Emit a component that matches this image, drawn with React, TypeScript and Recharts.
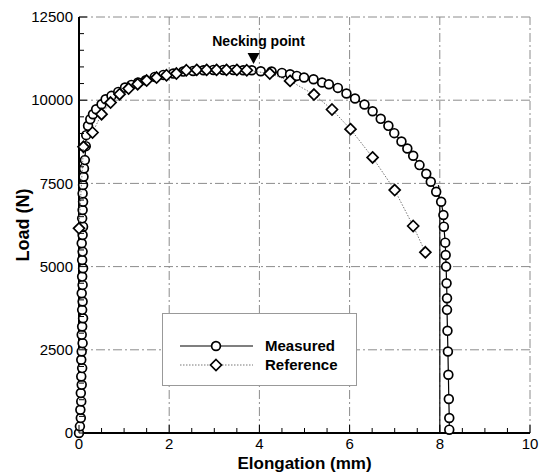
import { ScatterChart, Scatter, XAxis, YAxis, ReferenceLine, ReferenceDot } from 'recharts';

const FONT = '"Liberation Sans", Arial, Helvetica, sans-serif';

// measured load-elongation curve, [elongation mm, load N]
const measuredPoints: [number, number][] = [
  [0.0, 0], [0.02, 200], [0.04, 450], [0.03, 700], [0.05, 950], [0.04, 1200], [0.06, 1450],
  [0.05, 1700], [0.07, 1950], [0.05, 2200], [0.06, 2450], [0.08, 2700], [0.06, 2950],
  [0.07, 3200], [0.09, 3450], [0.07, 3700], [0.08, 3950], [0.06, 4200], [0.08, 4450],
  [0.07, 4700], [0.09, 4950], [0.07, 5200], [0.08, 5450], [0.06, 5700], [0.08, 5950],
  [0.09, 6200], [0.07, 6450], [0.08, 6700], [0.09, 6950], [0.08, 7200], [0.09, 7450],
  [0.1, 7700], [0.11, 7950], [0.13, 8200], [0.15, 8620], [0.16, 8950], [0.2, 9230],
  [0.25, 9430], [0.31, 9580], [0.38, 9730], [0.5, 9880], [0.59, 10030], [0.72, 10130],
  [0.87, 10250], [1.02, 10380], [1.16, 10460], [1.31, 10530], [1.48, 10600], [1.68, 10700],
  [1.87, 10760], [2.09, 10800], [2.31, 10860], [2.53, 10880], [2.76, 10900], [2.98, 10910],
  [3.2, 10910], [3.42, 10910], [3.64, 10900], [3.83, 10900], [4.03, 10870], [4.27, 10860],
  [4.5, 10820], [4.68, 10780], [4.83, 10730], [4.99, 10680], [5.2, 10630], [5.39, 10530],
  [5.54, 10480], [5.74, 10370], [5.93, 10200], [6.12, 10050], [6.33, 9870], [6.51, 9670],
  [6.69, 9440], [6.86, 9230], [6.99, 9010], [7.15, 8760], [7.28, 8550], [7.41, 8330],
  [7.55, 8050], [7.7, 7790], [7.8, 7550], [7.92, 7250], [8.03, 6950], [8.08, 6550],
  [8.09, 6200], [8.12, 5720], [8.13, 5350], [8.14, 5000], [8.15, 4500], [8.16, 4050],
  [8.16, 3700], [8.17, 3070], [8.18, 2450], [8.19, 1750], [8.2, 1020], [8.21, 450], [8.21, 100],
];

// plain measured trace at fracture (drawn without markers)
const fractureTrace: [number, number][] = [
  [7.97, 7450], [8.0, 6900], [8.0, 0],
];

// reference curve
const referencePoints: [number, number][] = [
  [0.0, 6150], [0.1, 8600], [0.3, 9030], [0.5, 9580], [0.7, 9930], [0.9, 10180], [1.1, 10350],
  [1.3, 10480], [1.5, 10590], [1.72, 10680], [1.94, 10750], [2.16, 10800], [2.38, 10900],
  [2.61, 10910], [2.83, 10910], [3.05, 10910], [3.27, 10910], [3.5, 10910], [3.72, 10900],
  [4.23, 10800], [4.68, 10580], [5.21, 10170], [5.61, 9720], [6.02, 9130], [6.51, 8280],
  [7.0, 7300], [7.41, 6220], [7.68, 5430],
];

const neckingPoint = { x: 3.87, y: 11270, label: 'Necking point' };

const xTicks = [0, 0.5, 1, 1.5, 2, 2.5, 3, 3.5, 4, 4.5, 5, 5.5, 6, 6.5, 7, 7.5, 8, 8.5, 9, 9.5, 10];
const xLabels = [0, 2, 4, 6, 8, 10];
const yTicks = [
  0, 500, 1000, 1500, 2000, 2500, 3000, 3500, 4000, 4500, 5000, 5500, 6000, 6500,
  7000, 7500, 8000, 8500, 9000, 9500, 10000, 10500, 11000, 11500, 12000, 12500,
];
const yLabels = [0, 2500, 5000, 7500, 10000, 12500];

const measured = measuredPoints.map(([x, y]) => ({ x, y }));
const fracture = fractureTrace.map(([x, y]) => ({ x, y }));
const reference = referencePoints.map(([x, y]) => ({ x, y }));

const GRID = { stroke: '#8c8c8c', strokeWidth: 1, strokeDasharray: '9 3 2 3' };

function XTick({ x, y, payload }: any) {
  const major = xLabels.includes(payload.value);
  return (
    <g>
      <line x1={x} y1={y} x2={x} y2={y - (major ? 8 : 5)} stroke="#000" strokeWidth={1} />
      {major && (
        <text x={x} y={y + 16} textAnchor="middle" fontSize={15} fontFamily={FONT} fill="#000">
          {payload.value}
        </text>
      )}
    </g>
  );
}

function YTick({ x, y, payload }: any) {
  const major = yLabels.includes(payload.value);
  return (
    <g>
      <line x1={x} y1={y} x2={x + (major ? 8 : 5)} y2={y} stroke="#000" strokeWidth={1} />
      {major && (
        <text x={x - 6} y={y} dy="0.35em" textAnchor="end" fontSize={15} fontFamily={FONT} fill="#000">
          {payload.value}
        </text>
      )}
    </g>
  );
}

function Circle({ cx, cy }: any) {
  return <circle cx={cx} cy={cy} r={4.4} fill="#fff" stroke="#000" strokeWidth={1.7} />;
}

function Diamond({ cx, cy }: any) {
  const s = 5.5;
  return (
    <path
      d={`M${cx},${cy - s}L${cx + s},${cy}L${cx},${cy + s}L${cx - s},${cy}Z`}
      fill="#fff"
      stroke="#000"
      strokeWidth={1.7}
    />
  );
}

function NeckMark({ cx, cy }: any) {
  return (
    <g>
      <path d={`M${cx - 6},${cy - 5}L${cx + 6},${cy - 5}L${cx},${cy + 6}Z`} fill="#000" />
      <text x={cx + 5} y={cy - 12} textAnchor="middle" fontSize={14} fontWeight="bold" fontFamily={FONT} fill="#000">
        {neckingPoint.label}
      </text>
    </g>
  );
}

function LegendBox() {
  const row = (name: string, dashed: boolean, marker: 'circle' | 'diamond') => (
    <div style={{ display: 'flex', alignItems: 'center', height: 19 }}>
      <svg width={76} height={14} style={{ marginRight: 10 }}>
        <line
          x1={1}
          y1={7}
          x2={74}
          y2={7}
          stroke={dashed ? '#777' : '#000'}
          strokeWidth={dashed ? 1 : 1.2}
          strokeDasharray={dashed ? '1.5 1.5' : undefined}
        />
        {marker === 'circle' ? <Circle cx={37} cy={7} /> : <Diamond cx={37} cy={7} />}
      </svg>
      <span style={{ fontFamily: FONT, fontWeight: 'bold', fontSize: 15, color: '#000' }}>{name}</span>
    </div>
  );
  return (
    <div
      style={{
        position: 'absolute',
        left: 162,
        top: 313,
        boxSizing: 'border-box',
        width: 195,
        height: 73,
        border: '1px solid #999',
        background: '#fff',
        padding: '22px 0 0 16px',
      }}
    >
      {row('Measured', false, 'circle')}
      {row('Reference', true, 'diamond')}
    </div>
  );
}

export default function App() {
  return (
    <div style={{ position: 'absolute', left: 0, top: 0, width: 545, height: 472, background: '#fff' }}>
      <ScatterChart width={545} height={472} margin={{ top: 17, right: 15, bottom: 0, left: 0 }}>
        <XAxis
          type="number"
          dataKey="x"
          domain={[0, 10]}
          ticks={xTicks}
          interval={0}
          tickSize={0}
          tickMargin={0}
          tick={<XTick />}
          height={39}
          axisLine={{ stroke: '#000', strokeWidth: 2 }}
          label={{
            content: ({ viewBox }: any) => (
              <text
                x={viewBox.x + viewBox.width / 2}
                y={viewBox.y + 36}
                textAnchor="middle"
                fontSize={17}
                fontWeight="bold"
                fontFamily={FONT}
                fill="#000"
              >
                Elongation (mm)
              </text>
            ),
          }}
        />
        <YAxis
          type="number"
          dataKey="y"
          domain={[0, 12500]}
          ticks={yTicks}
          interval={0}
          tickSize={0}
          tickMargin={0}
          tick={<YTick />}
          width={79}
          axisLine={{ stroke: '#000', strokeWidth: 2 }}
          label={{
            content: ({ viewBox }: any) => {
              const cx = 23;
              const cy = viewBox.y + viewBox.height / 2;
              return (
                <text
                  x={cx}
                  y={cy}
                  dy="0.35em"
                  transform={`rotate(-90, ${cx}, ${cy})`}
                  textAnchor="middle"
                  fontSize={18}
                  fontWeight="bold"
                  fontFamily={FONT}
                  fill="#000"
                >
                  Load (N)
                </text>
              );
            },
          }}
        />
        {xLabels.slice(1).map((v) => (
          <ReferenceLine key={`gx${v}`} x={v} {...GRID} />
        ))}
        {yLabels.slice(1).map((v) => (
          <ReferenceLine key={`gy${v}`} y={v} {...GRID} />
        ))}
        <Scatter
          name="Fracture"
          data={fracture}
          line={{ stroke: '#111', strokeWidth: 1.2 }}
          shape={() => <g />}
          isAnimationActive={false}
        />
        <Scatter
          name="Measured"
          data={measured}
          line={{ stroke: '#000', strokeWidth: 1.2 }}
          shape={<Circle />}
          isAnimationActive={false}
        />
        <Scatter
          name="Reference"
          data={reference}
          line={{ stroke: '#777', strokeWidth: 1, strokeDasharray: '1.5 1.5' }}
          shape={<Diamond />}
          isAnimationActive={false}
        />
        <ReferenceDot x={neckingPoint.x} y={neckingPoint.y} shape={<NeckMark />} />
      </ScatterChart>
      <LegendBox />
    </div>
  );
}
